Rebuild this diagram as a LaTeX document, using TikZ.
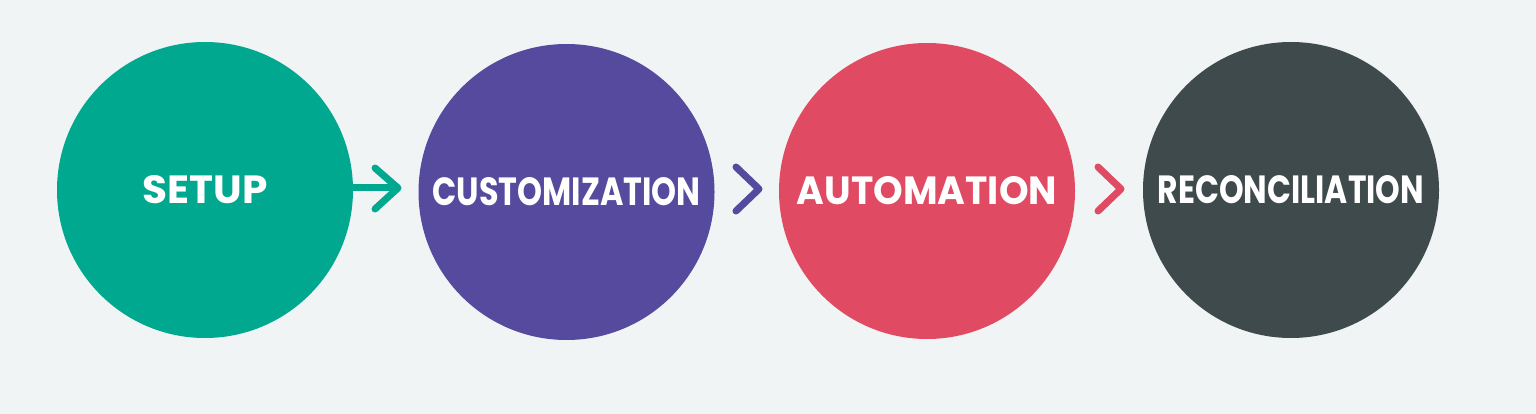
\documentclass[tikz,border=0pt]{standalone}
\usepackage{fontspec}
\setmainfont{Poppins}
\usepackage{graphicx}
\definecolor{bgc}{HTML}{F1F4F5}
\definecolor{teal}{HTML}{00A88F}
\definecolor{purp}{HTML}{554A9E}
\definecolor{rose}{HTML}{E04A63}
\definecolor{slate}{HTML}{3E4A4B}
\begin{document}
\begin{tikzpicture}[x=1pt,y=-1pt,
  stage/.style={circle,minimum size=296pt,inner sep=0pt,text=white},
  conn/.style={line width=7pt,line cap=round,line join=round}]
\fill[bgc] (0,0) rectangle (1536,414);
\useasboundingbox (0,0) rectangle (1536,414);
\node[stage,fill=teal] (s1) at (205,190) {\resizebox{125pt}{28pt}{\bfseries SETUP}};
\node[stage,fill=purp] (s2) at (566.5,192) {\resizebox{268pt}{28pt}{\bfseries CUSTOMIZATION}};
\node[stage,fill=rose] (s3) at (927,191) {\resizebox{260pt}{28pt}{\bfseries AUTOMATION}};
\node[stage,fill=slate] (s4) at (1291,190) {\resizebox{266pt}{28pt}{\bfseries RECONCILIATION}};
\coordinate (t1) at (398,188);
\coordinate (a1u) at (375,168);
\coordinate (a1d) at (375,209);
\draw[conn,teal,line cap=butt] (s1.east |- t1) -- (t1);
\draw[conn,teal] (a1u) -- (t1) -- (a1d);
\coordinate (t2) at (759,189);
\draw[conn,purp] (736,167) -- (t2) -- (736,211);
\coordinate (t3) at (1121,189);
\draw[conn,rose] (1098,167) -- (t3) -- (1098,211);
\end{tikzpicture}
\end{document}
